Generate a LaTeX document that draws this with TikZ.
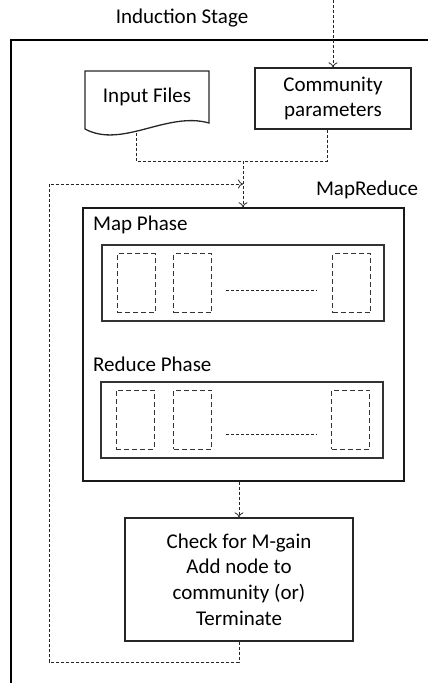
\documentclass[tikz,border=0pt]{standalone}
\usepackage{fontspec}
\setmainfont{Carlito}
\tikzstyle{procbox}=[rectangle,draw=black!85,line width=1.3pt,align=center,inner sep=0pt]
\tikzstyle{docbox}=[rectangle,align=center,inner sep=0pt]
\tikzstyle{mrbox}=[rectangle,draw=black!90,line width=1.5pt,inner sep=0pt]
\tikzstyle{phasebox}=[rectangle,draw=black!80,line width=1.1pt,minimum width=282pt,minimum height=76pt]
\tikzstyle{task}=[rectangle,draw=black!80,dash pattern=on 5pt off 3pt,line width=0.8pt,
minimum width=38pt,minimum height=59pt]
\tikzstyle{plaintext}=[inner sep=0pt]
\tikzstyle{flow}=[color=black!85,line width=0.8pt,dash pattern=on 3pt off 2pt,->]
\tikzstyle{flowline}=[color=black!85,line width=0.8pt,dash pattern=on 3pt off 2pt]
\usetikzlibrary{positioning,arrows.meta}

\begin{document}
\begin{tikzpicture}[x=1pt,y=-1pt,>={To[length=5pt,width=9pt]},font=\fontsize{21}{25.7}\selectfont]
            \useasboundingbox (0,0) rectangle (428,683);

            % OUTER STAGE

            \node[plaintext] (title) at (182,18) {Induction Stage};
            \draw[line width=2pt] (11,683) |- (428,40);

            % INPUT PART

            \node[docbox] (infile) at (147,97) {Input Files};
            \draw[line width=1.3pt,draw=black!85] ([shift={(-62,-26)}]infile.center) -- ([shift={(62,-26)}]infile.center)
                -- ([shift={(62,26)}]infile.center)
                .. controls ([shift={(20,14)}]infile.center) and ([shift={(-25,52)}]infile.center) .. ([shift={(-62,32)}]infile.center)
                -- cycle;
            \node[procbox,minimum width=156pt,minimum height=61pt] (comm) at (333,98.5) {Community\\parameters};

            \coordinate (intop) at (333,0);
            \coordinate (join) at (243,161);
            \coordinate (back) at (243,184);
            \coordinate (loopbl) at (49,662);

            \path[flow] (intop) edge (comm);
            \draw[flowline] ([shift={(-11,36)}]infile.center) |- (join);
            \draw[flowline] ([xshift=-6pt]comm.south) |- (join);

            % MAPREDUCE PART

            \node[mrbox,minimum width=321pt,minimum height=273pt] (mr) at (243.5,344.5) {};
            \node[plaintext] (mrlabel) at (367,190) {MapReduce};
            \path[flow] (join) edge (mr.north -| join);

            \node[plaintext,anchor=west] (maplabel) at (93,225) {Map Phase};
            \node[phasebox] (mapbox) at (243,283) {};
            \node[task] (m1) at (136,283) {};
            \node[task,right=18pt of m1] (m2) {};
            \node[task,right=120pt of m2] (m3) {};
            \draw[flowline,shorten <=14pt,shorten >=15pt] ([yshift=-7pt]m2.east) -- ([yshift=-7pt]m3.west);

            \node[plaintext,anchor=west] (redlabel) at (93,364) {Reduce Phase};
            \node[phasebox] (redbox) at (242,420) {};
            \node[task] (r1) at (135,419.5) {};
            \node[task,right=19pt of r1] (r2) {};
            \node[task,right=119pt of r2] (r3) {};
            \draw[flowline,shorten <=14pt,shorten >=14pt] ([yshift=-14.5pt]r2.east) -- ([yshift=-14.5pt]r3.west);

            % CHECK PART

            \node[procbox,minimum width=228pt,minimum height=123pt] (check) at (239,579.5)
                {Check for M-gain\\Add node to\\community (or)\\Terminate};
            \path[flow] (mr.south -| check.north) edge (check.north);
            \draw[flow] (check.south) |- (loopbl) |- (back);

        \end{tikzpicture}
\end{document}
